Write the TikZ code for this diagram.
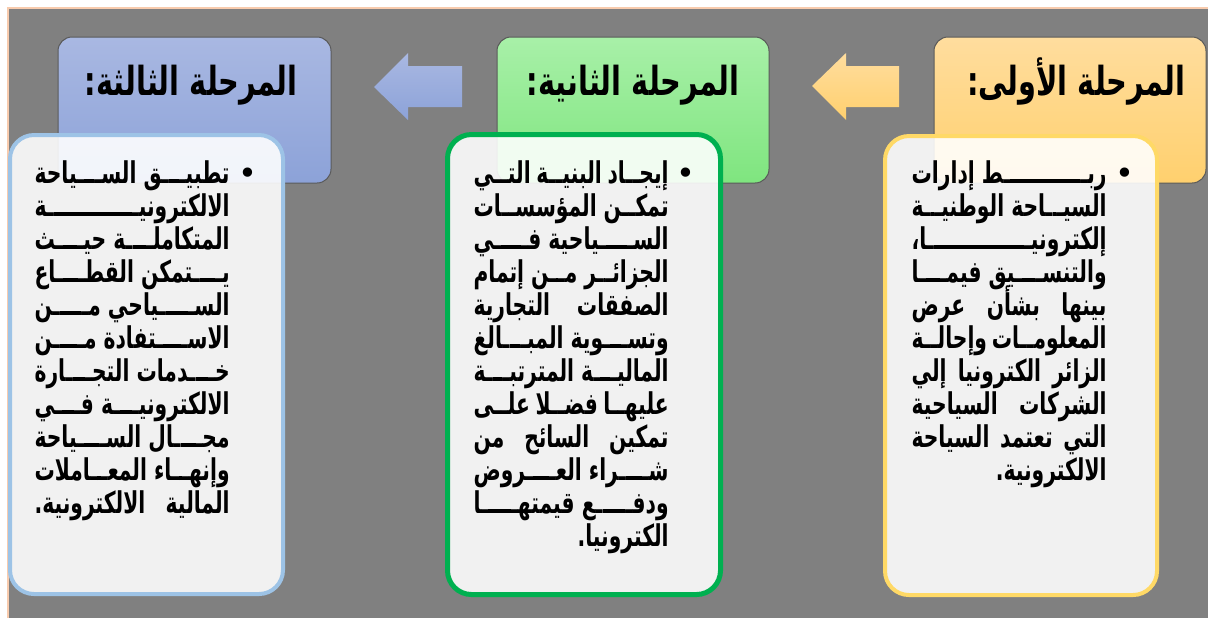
\documentclass[tikz,border=0pt]{standalone}
\usepackage{fontspec}
\usetikzlibrary{shadows}
\TeXXeTstate=1
\setmainfont{DejaVu Sans}
\newfontfamily\arabicbody[Script=Arabic,FakeStretch=0.675]{DejaVu Sans}
\newfontfamily\arabichead[Script=Arabic,FakeStretch=0.72]{DejaVu Sans}
\definecolor{bggray}{HTML}{808080}
\definecolor{peach}{HTML}{F8CBAD}
\definecolor{bordblue}{HTML}{9DC3E6}
\definecolor{bordgreen}{HTML}{00B050}
\definecolor{bordorange}{HTML}{FFD966}
\definecolor{hbluetop}{HTML}{A9B8E2}
\definecolor{hbluebot}{HTML}{8CA2D8}
\definecolor{hgreentop}{HTML}{A8F0A8}
\definecolor{hgreenbot}{HTML}{7FE57F}
\definecolor{horangetop}{HTML}{FFDD9E}
\definecolor{horangebot}{HTML}{FFD06E}
\newdimen\colw
\colw=97.5pt
\newcommand\jl[1]{\hbox to \colw{\beginR #1\endR}}
\newcommand\jr[1]{\hbox to \colw{\hfil\beginR #1\endR}}
\newcommand\kas{\setbox0\hbox{ـ}\leaders\hrule height\ht0 depth\dp0\hfill}
\newcommand\bodyfont{\fontsize{15}{16.5}\arabicbody\bfseries}
\begin{document}
\begin{tikzpicture}[x=0.5pt,y=-0.5pt,
  hdr/.style={draw=black!65, line width=0.5pt, rounded corners=7pt,
    drop shadow={shadow xshift=1pt,shadow yshift=-1.5pt,opacity=0.4}},
  txtbox/.style={fill=white, fill opacity=0.89, rounded corners=12pt},
  hdrtext/.style={anchor=base east, inner sep=0pt, font=\fontsize{20}{22}\arabichead\bfseries},
  bodytext/.style={anchor=base east, inner sep=0pt, font=\bodyfont},
  bullet/.style={inner sep=0pt, font=\fontsize{16}{16}\selectfont}]
\useasboundingbox (0,0) rectangle (1208,618);
\fill[white] (0,0) rectangle (1208,618);
\fill[bggray] (8,8) rectangle (1208,618);
\draw[peach, line width=1pt] (8,618) -- (8,8) -- (1208,8);
% headers
\node[hdr, top color=hbluetop, bottom color=hbluebot, minimum width=136.5pt, minimum height=73pt] (h3) at (194.5,110) {};
\node[hdr, top color=hgreentop, bottom color=hgreenbot, minimum width=136pt, minimum height=73pt] (h2) at (633,110) {};
\node[hdr, top color=horangetop, bottom color=horangebot, minimum width=136pt, minimum height=73pt] (h1) at (1070,110) {};
\node[hdrtext] (h3t) at (298,95) {\beginR المرحلة الثالثة:\endR};
\node[hdrtext] (h2t) at (740,95) {\beginR المرحلة الثانية:\endR};
\node[hdrtext] (h1t) at (1186,95) {\beginR المرحلة الأولى:\endR};
% arrows
\shade[top color=horangetop, bottom color=horangebot]
  (812,86) -- (846,53) -- (846,66) -- (899,66) -- (899,107) -- (846,107) -- (846,120) -- cycle;
\shade[top color=hbluetop, bottom color=hbluebot]
  (374,87) -- (408,53) -- (408,66) -- (462,66) -- (462,107) -- (408,107) -- (408,120) -- cycle;
% text boxes
\node[txtbox, draw=bordblue, line width=2pt, minimum width=136.5pt, minimum height=229.5pt] (t3) at (146.5,364.5) {};
\node[txtbox, draw=bordgreen, line width=2.5pt, minimum width=136.5pt, minimum height=230pt] (t2) at (584,364.5) {};
\node[txtbox, draw=bordorange, line width=2pt, minimum width=136pt, minimum height=229.5pt] (t1) at (1021,365.5) {};
% bullets
\node[bullet] (b1) at (1125,176) {•};
\node[bullet] (b2) at (686,176) {•};
\node[bullet] (b3) at (248,176) {•};
% body texts
\node[bodytext] (x1) at (1107,183) {\vtop{\baselineskip=16.5pt\lineskiplimit=-20pt
\jl{ربـ\kas ـط إدارات}
\jl{السيـ\kas ـاحة الوطنيـ\kas ـة}
\jl{إلكترونيـ\kas ـا،}
\jl{والتنسـ\kas ـيق فيمـ\kas ـا}
\jl{بينها بشأن عرض}
\jl{المعلومـ\kas ـات وإحالـ\kas ـة}
\jl{الزائر الكترونيا إلي}
\jl{الشركات السياحية}
\jl{التي تعتمد السياحة}
\jr{الالكترونية.}}};
\node[bodytext] (x2) at (669,183) {\vtop{\baselineskip=16.5pt\lineskiplimit=-20pt
\jl{إيجـ\kas ـاد البنيـ\kas ـة التـ\kas ـي}
\jl{تمكـ\kas ـن المؤسسـ\kas ـات}
\jl{السـ\kas ـياحية فـ\kas ـي}
\jl{الجزائـ\kas ـر مـ\kas ـن إتمام}
\jl{الصفقات التجارية}
\jl{وتسـ\kas ـوية المبـ\kas ـالغ}
\jl{الماليـ\kas ـة المترتبـ\kas ـة}
\jl{عليهـ\kas ـا فضـ\kas ـلا علـ\kas ـى}
\jl{تمكين السائح من}
\jl{شـ\kas ـراء العـ\kas ـروض}
\jl{ودفـ\kas ـع قيمتهـ\kas ـا}
\jr{الكترونيا.}}};
\node[bodytext] (x3) at (230,183) {\vtop{\baselineskip=16.5pt\lineskiplimit=-20pt
\jl{تطبيـ\kas ـق السـ\kas ـياحة}
\jl{الالكترونيـ\kas ـة}
\jl{المتكاملـ\kas ـة حيـ\kas ـث}
\jl{يـ\kas ـتمكن القطـ\kas ـاع}
\jl{السـ\kas ـياحي مـ\kas ـن}
\jl{الاسـ\kas ـتفادة مـ\kas ـن}
\jl{خـ\kas ـدمات التجـ\kas ـارة}
\jl{الالكترونيـ\kas ـة فـ\kas ـي}
\jl{مجـ\kas ـال السـ\kas ـياحة}
\jl{وإنهـ\kas ـاء المعـ\kas ـاملات}
\jl{المالية الالكترونية.}}};
\end{tikzpicture}
\end{document}
